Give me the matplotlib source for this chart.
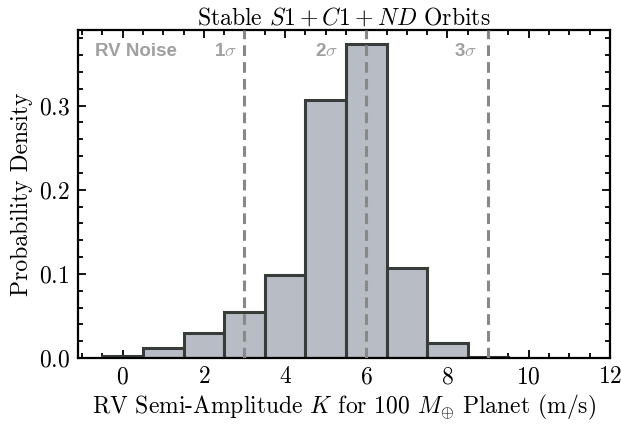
import matplotlib
matplotlib.use("Agg")
import matplotlib.pyplot as plt
from matplotlib.ticker import MultipleLocator

plt.rcParams["font.family"] = "serif"
plt.rcParams["font.serif"] = ["cmr10", "DejaVu Serif"]
plt.rcParams["mathtext.fontset"] = "cm"
plt.rcParams["axes.formatter.use_mathtext"] = True

# histogram of K (bin centres, unit width) and probability density
bin_centers = [0, 1, 2, 3, 4, 5, 6, 7, 8, 9]
density = [0.002, 0.012, 0.030, 0.055, 0.099, 0.307, 0.373, 0.107, 0.018, 0.001]

# RV noise levels (m/s)
sigma_levels = [3, 6, 9]
sigma_labels = ["1$\\sigma$", "2$\\sigma$", "3$\\sigma$"]
sigma_label_x = [2.82, 5.30, 8.73]

fig, ax = plt.subplots(figsize=(6.21, 4.28), dpi=100)
fig.subplots_adjust(left=0.1256, right=0.982, bottom=0.1636, top=0.93)

ax.bar(bin_centers, density, width=1.0, color="#b8bcc4",
       edgecolor="#383d3a", linewidth=2.2, zorder=2)

for s in sigma_levels:
    ax.axvline(s, color="#888888", linestyle=(0, (3.5, 2.0)), linewidth=2.2, zorder=3)

ax.text(-0.68, 0.364, "RV Noise", color="#a0a0a0", fontsize=13.5,
        fontweight="bold", family="Liberation Sans", ha="left", va="center")
for lx, lab in zip(sigma_label_x, sigma_labels):
    ax.text(lx, 0.364, lab, color="#a0a0a0", fontsize=13.5,
            fontweight="bold", family="Liberation Sans", ha="right", va="center")

ax.set_xlim(-1.1, 12)
ax.set_ylim(0, 0.39)
ax.xaxis.set_major_locator(MultipleLocator(2))
ax.xaxis.set_minor_locator(MultipleLocator(0.5))
ax.yaxis.set_major_locator(MultipleLocator(0.1))
ax.yaxis.set_minor_locator(MultipleLocator(0.02))
ax.tick_params(which="both", direction="in", top=True, right=True,
               labelsize=17, width=1.3)
ax.tick_params(which="major", length=6, pad=6)
ax.tick_params(which="minor", length=3.5)
for sp in ax.spines.values():
    sp.set_linewidth(1.6)

ax.set_xlabel("RV Semi-Amplitude $K$ for 100 $M_{\\oplus}$ Planet (m/s)", fontsize=17, labelpad=3)
ax.set_ylabel("Probability Density", fontsize=17, labelpad=4)
ax.set_title("Stable $S1 + C1 + ND$ Orbits", fontsize=17, pad=3)

fig.savefig("out.png", dpi=100)
